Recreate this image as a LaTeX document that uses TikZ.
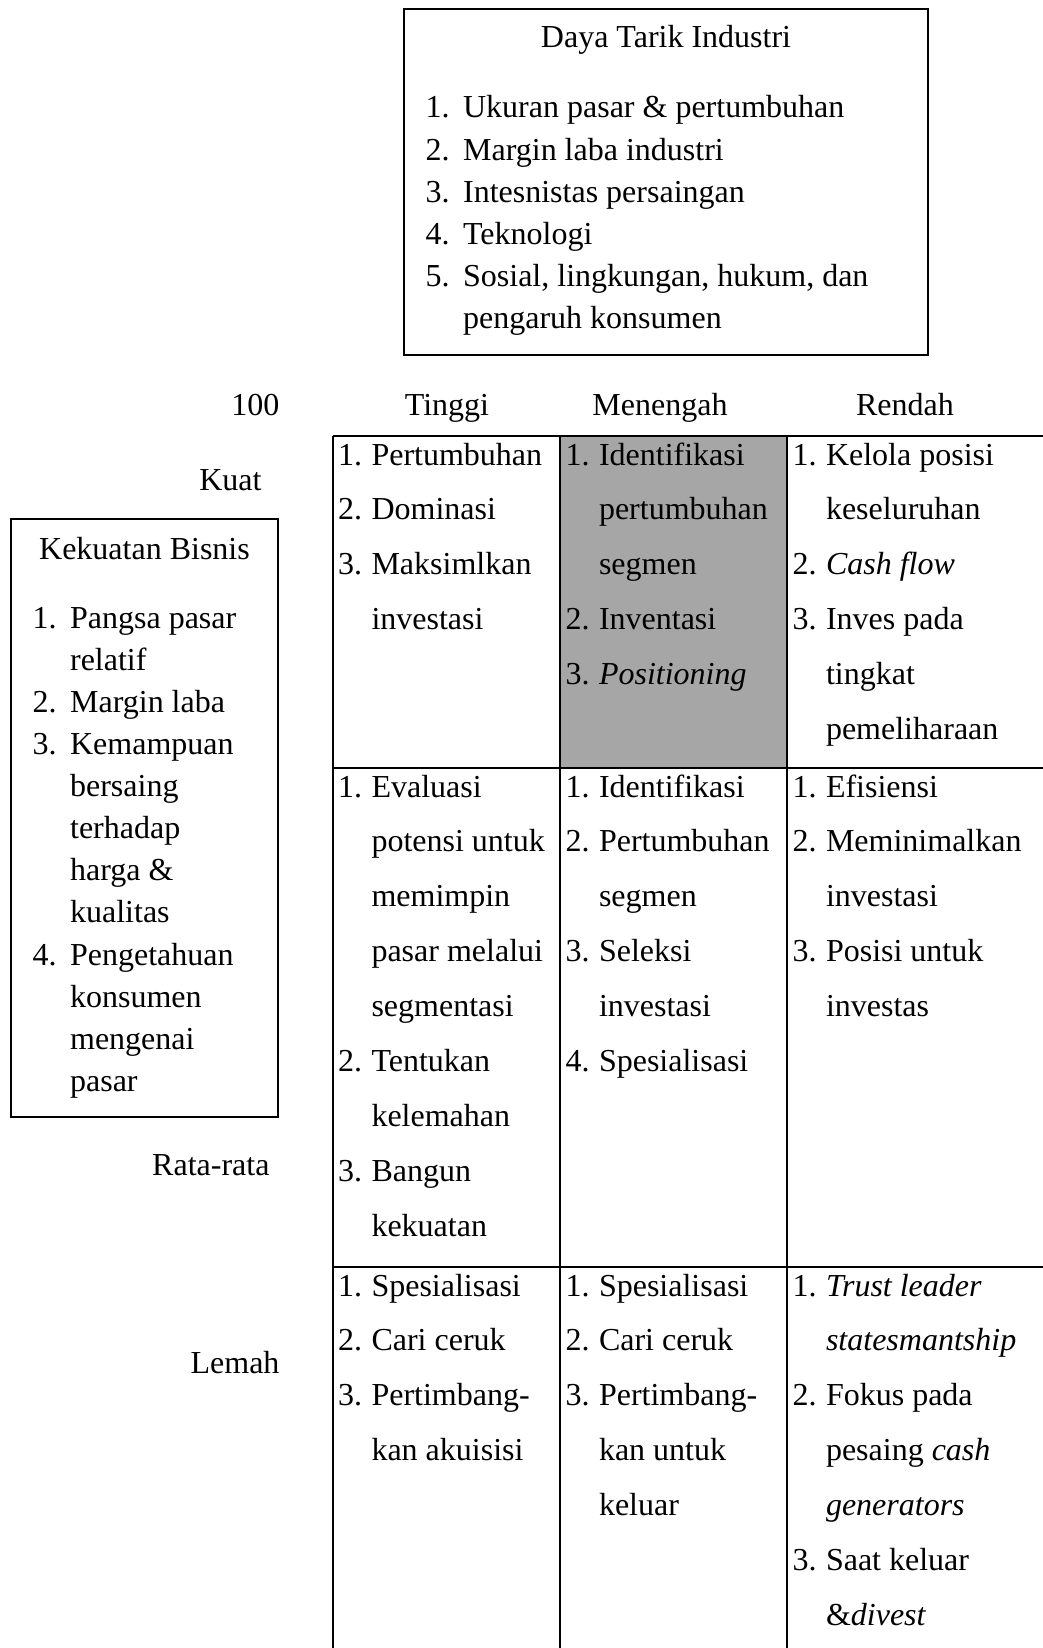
\documentclass[tikz,border=0pt]{standalone}
\usepackage{fontspec}
\setmainfont{Liberation Serif}
\usepackage{array}
\usepackage{xcolor}
\usepackage{tikz}

\definecolor{abu}{HTML}{A6A6A6}
% isi sel matriks dan isi kotak
\newcommand{\butirsel}[1]{\begin{tabular}[t]{@{}p{12.56pt}@{}l@{}}#1\end{tabular}}
\newcommand{\butirkotak}[1]{\begin{tabular}[t]{@{}p{14.1pt}@{}l@{}}#1\end{tabular}}

\begin{document}
\begin{tikzpicture}[x=0.375pt,y=-0.375pt,
  isi/.style={anchor=base west,inner sep=0pt,font=\fontsize{12}{20.6}\selectfont},
  daftar/.style={anchor=base west,inner sep=0pt,font=\fontsize{12}{15.8}\selectfont},
  judul/.style={anchor=base,inner sep=0pt,font=\fontsize{12}{14}\selectfont},
  sumbu/.style={anchor=base east,inner sep=0pt,font=\fontsize{12}{14}\selectfont},
  garis/.style={line width=0.75pt}]
\useasboundingbox (0,0) rectangle (1043,1648);

% kotak daya tarik industri
\draw [garis] (404,9) rectangle (928,355);
\node[judul] (0) at (666,48) {Daya Tarik Industri};
\node[daftar] (1) at (425,118) {\butirkotak{1. & Ukuran pasar \& pertumbuhan\\ 2. & Margin laba industri\\ 3. & Intesnistas persaingan\\ 4. & Teknologi\\ 5. & Sosial, lingkungan, hukum, dan\\ & pengaruh konsumen}};

% kotak kekuatan bisnis
\draw [garis] (11,519) rectangle (278,1117);
\node[judul] (2) at (144.5,559) {Kekuatan Bisnis};
\node[daftar] (3) at (32,628) {\butirkotak{1. & Pangsa pasar\\ & relatif\\ 2. & Margin laba\\ 3. & Kemampuan\\ & bersaing\\ & terhadap\\ & harga \&\\ & kualitas\\ 4. & Pengetahuan\\ & konsumen\\ & mengenai\\ & pasar}};

% label sumbu
\node[sumbu] (4) at (280,415) {100};
\node[judul] (5) at (447,415) {Tinggi};
\node[judul] (6) at (660,415) {Menengah};
\node[judul] (7) at (905,415) {Rendah};
\node[sumbu] (8) at (262,490) {Kuat};
\node[sumbu] (9) at (270,1175) {Rata-rata};
\node[sumbu] (10) at (280,1373) {Lemah};

% matriks
\fill [abu] (560,436) rectangle (787,768);
\draw [garis] (333,436) -- (1043,436);
\draw [garis] (333,768) -- (1043,768);
\draw [garis] (333,1267) -- (1043,1267);
\draw [garis] (333,436) -- (333,1648);
\draw [garis] (560,436) -- (560,1648);
\draw [garis] (787,436) -- (787,1648);

\node[isi] (11) at (337.5,465) {\butirsel{1. & Pertumbuhan\\ 2. & Dominasi\\ 3. & Maksimlkan\\ & investasi}};
\node[isi] (12) at (565,465) {\butirsel{1. & Identifikasi\\ & pertumbuhan\\ & segmen\\ 2. & Inventasi\\ 3. & \textit{Positioning}}};
\node[isi] (13) at (792,465) {\butirsel{1. & Kelola posisi\\ & keseluruhan\\ 2. & \textit{Cash flow}\\ 3. & Inves pada\\ & tingkat\\ & pemeliharaan}};

\node[isi] (14) at (337.5,797) {\butirsel{1. & Evaluasi\\ & potensi untuk\\ & memimpin\\ & pasar melalui\\ & segmentasi\\ 2. & Tentukan\\ & kelemahan\\ 3. & Bangun\\ & kekuatan}};
\node[isi] (15) at (565,797) {\butirsel{1. & Identifikasi\\ 2. & Pertumbuhan\\ & segmen\\ 3. & Seleksi\\ & investasi\\ 4. & Spesialisasi}};
\node[isi] (16) at (792,797) {\butirsel{1. & Efisiensi\\ 2. & Meminimalkan\\ & investasi\\ 3. & Posisi untuk\\ & investas}};

\node[isi] (17) at (337.5,1296) {\butirsel{1. & Spesialisasi\\ 2. & Cari ceruk\\ 3. & Pertimbang-\\ & kan akuisisi}};
\node[isi] (18) at (565,1296) {\butirsel{1. & Spesialisasi\\ 2. & Cari ceruk\\ 3. & Pertimbang-\\ & kan untuk\\ & keluar}};
\node[isi] (19) at (792,1296) {\butirsel{1. & \textit{Trust leader}\\ & \textit{statesmantship}\\ 2. & Fokus pada\\ & pesaing \textit{cash}\\ & \textit{generators}\\ 3. & Saat keluar\\ & \&\textit{divest}}};
\end{tikzpicture}
\end{document}
